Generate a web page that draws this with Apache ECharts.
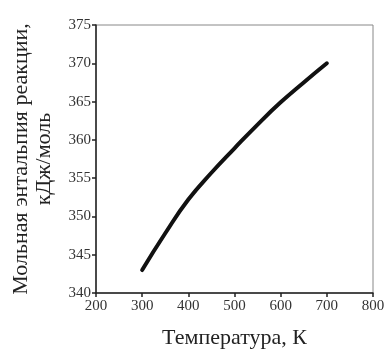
<!DOCTYPE html>
<html><head><meta charset="utf-8">
<script src="https://cdn.jsdelivr.net/npm/echarts@6/dist/echarts.min.js"></script>
<style>html,body{margin:0;padding:0;background:#fff}#c{width:385px;height:349px}</style>
</head><body><div id="c"></div>
<script>
const temperatures = [300, 350, 400, 450, 500, 550, 600, 650, 700];
const enthalpy = [343.0, 347.8, 352.2, 355.7, 358.9, 362.0, 364.9, 367.5, 370.0];
const xTitle = 'Температура, К';
const yTitle = 'Мольная энтальпия реакции,\nкДж/моль';
const font = '"Liberation Serif", "DejaVu Serif", serif';
const chart = echarts.init(document.getElementById('c'));
chart.setOption({
  animation: false,
  grid: {left: 96, top: 25, right: 12, bottom: 56, show: true, borderColor: '#888', borderWidth: 1, containLabel: false, outerBoundsMode: 'none'},
  xAxis: {
    type: 'value', min: 200, max: 800, interval: 100,
    name: xTitle, nameLocation: 'middle', nameGap: 34,
    nameTextStyle: {fontFamily: font, fontSize: 22, color: '#222'},
    axisLine: {show: true, lineStyle: {color: '#222', width: 1.5}},
    axisTick: {show: true, inside: false, length: 4, lineStyle: {color: '#222', width: 1.5}},
    axisLabel: {fontFamily: font, fontSize: 15, color: '#333', margin: 6},
    splitLine: {show: false}
  },
  yAxis: {
    type: 'value', min: 340, max: 375, interval: 5,
    name: yTitle, nameLocation: 'middle', nameGap: 40, nameRotate: 90,
    nameTextStyle: {fontFamily: font, fontSize: 22, color: '#222', lineHeight: 23, align: 'center'},
    axisLine: {show: true, lineStyle: {color: '#222', width: 1.5}},
    axisTick: {show: true, inside: false, length: 4, lineStyle: {color: '#222', width: 1.5}},
    axisLabel: {fontFamily: font, fontSize: 15, color: '#333', margin: 5},
    splitLine: {show: false}
  },
  series: [{
    type: 'line', smooth: true, showSymbol: false,
    data: temperatures.map((t, i) => [t, enthalpy[i]]),
    lineStyle: {color: '#111', width: 4, cap: 'round', join: 'round'}
  }]
});
</script></body></html>
